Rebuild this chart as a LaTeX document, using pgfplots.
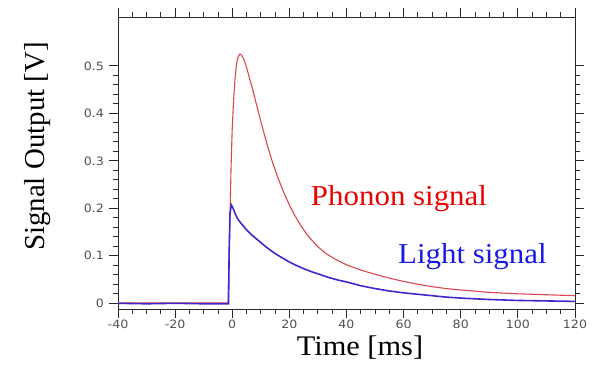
\documentclass[border=0pt]{standalone}
\usepackage{pgfplots}
\pgfplotsset{compat=1.18}
\usepackage{fontspec}
\setmainfont{Liberation Serif}
\newfontfamily\widefont{Liberation Serif}[FakeStretch=1.07]
\newfontfamily\tickfont{DejaVu Sans}[FakeStretch=1.1]
\definecolor{phononline}{RGB}{218,70,80}
\definecolor{lightline}{RGB}{60,40,205}
\definecolor{phonontext}{RGB}{235,0,0}
\definecolor{lighttext}{RGB}{25,25,230}
\definecolor{tickgray}{RGB}{80,80,80}
\definecolor{axisgray}{RGB}{40,40,40}

\pgfplotstableread{
t V
-40 0.001
-20 0.001
-1.5 0.001
-1.2 0.06
-0.8 0.18
-0.4 0.29
0 0.37
0.5 0.43
1.0 0.475
1.5 0.503
2.0 0.518
2.6 0.525
3.2 0.523
4 0.515
5 0.497
6 0.475
7 0.454
8 0.430
9 0.407
10 0.383
11 0.361
12 0.339
13 0.318
14 0.299
16 0.264
18 0.234
20 0.207
22 0.184
24 0.164
26 0.146
28 0.132
30 0.119
33 0.104
36 0.093
40 0.081
45 0.070
50 0.061
55 0.053
60 0.046
65 0.040
70 0.035
75 0.031
80 0.028
90 0.023
100 0.020
110 0.018
120 0.016
}\phonon

\pgfplotstableread{
t V
-40 0.000
-30 -0.001
-20 0.000
-10 -0.001
-1.3 -0.001
-1.1 0.10
-0.8 0.19
-0.3 0.207
0.3 0.200
1 0.189
2 0.177
3 0.169
4 0.162
5 0.155
6 0.149
7 0.143
8 0.138
10 0.128
12 0.118
14 0.109
16 0.101
18 0.094
20 0.087
22 0.081
25 0.073
28 0.066
31 0.060
34 0.054
37 0.049
40 0.045
45 0.037
50 0.031
55 0.026
60 0.022
65 0.019
70 0.016
75 0.013
80 0.011
90 0.008
100 0.006
110 0.005
120 0.004
}\light

\begin{document}
\begin{tikzpicture}
\useasboundingbox (-118bp,-58bp) rectangle (476bp,309bp);
\begin{axis}[
  at={(0,0)}, anchor=south west,
  scale only axis,
  width=457bp, height=292bp,
  xmin=-40, xmax=120,
  ymin=-0.012, ymax=0.603,
  xtick={-40,-20,...,120},
  ytick={0,0.1,0.2,0.3,0.4,0.5},
  minor x tick num=3,
  minor y tick num=4,
  tick align=outside,
  xtick pos=both, ytick pos=both,
  xticklabel pos=lower, yticklabel pos=left,
  major tick length=9bp,
  minor tick length=5bp,
  axis line style={axisgray, line width=0.9pt},
  every tick/.style={axisgray, line width=0.9pt},
  /pgf/number format/assume math mode=true,
  /pgf/number format/fixed,
  ticklabel style={font=\tickfont\fontsize{11.5}{11.5}\selectfont, text=tickgray, inner sep=1pt},
  xticklabel style={yshift=-1bp},
  yticklabel style={xshift=-4bp},
  clip=true,
]
\addplot[phononline, line width=1.1pt] table[x=t,y=V] {\phonon};
\addplot[lightline, line width=1.6pt] table[x=t,y=V] {\light};
\node[anchor=base west, text=phonontext, font=\widefont\fontsize{29}{30}\selectfont, inner sep=0pt] at (axis cs:27.5,0.207) {Phonon signal};
\node[anchor=base west, text=lighttext, font=\widefont\fontsize{29}{30}\selectfont, inner sep=0pt] at (axis cs:58,0.084) {Light signal};
\end{axis}
\node[anchor=base, font=\widefont\fontsize{28.5}{30}\selectfont, inner sep=0pt] at (242bp,-46.5bp) {Time [ms]};
\node[anchor=base, rotate=90, font=\fontsize{29}{30}\selectfont, inner sep=0pt] at (-73bp,162.5bp) {Signal Output [V]};
\end{tikzpicture}
\end{document}
